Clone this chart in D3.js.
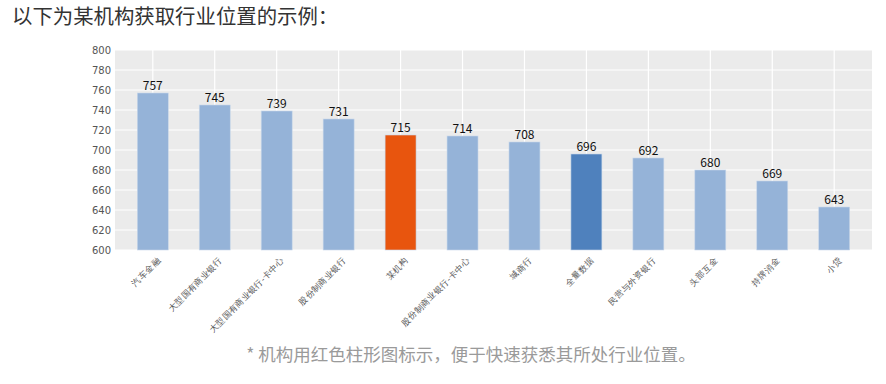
<!DOCTYPE html>
<html lang="zh">
<head>
<meta charset="utf-8">
<script src="https://cdnjs.cloudflare.com/ajax/libs/d3/7.8.5/d3.min.js"></script>
<style>
  body { margin: 0; background: #fff; }
  svg { display: block; font-family: "Noto Sans CJK SC", "Noto Sans", sans-serif; }
</style>
</head>
<body>
<script>
// chart data
var categories = ["汽车金融", "大型国有商业银行", "大型国有商业银行-卡中心", "股份制商业银行", "某机构",
                  "股份制商业银行-卡中心", "城商行", "全量数据", "民营与外资银行", "头部互金", "持牌消金", "小贷"]
var values = [757, 745, 739, 731, 715, 714, 708, 696, 692, 680, 669, 643]
var highlight = {"某机构": "#e8550e", "全量数据": "#4f81bd"}
var yTicks = [600, 620, 640, 660, 680, 700, 720, 740, 760, 780, 800]

var titleText = "以下为某机构获取行业位置的示例："
var noteText = "* 机构用红色柱形图标示，便于快速获悉其所处行业位置。"

var width = 886
var height = 384
var plot = {left: 115, right: 872, top: 50, bottom: 250}
var barFill = "#95b3d8"

var svg = d3.select("body").append("svg")
    .attr("width", width)
    .attr("height", height)

svg.append("text")
    .attr("x", 12)
    .attr("y", 24)
    .attr("font-size", 20.4)
    .attr("fill", "#333")
    .text(titleText)

// scales
var x = d3.scaleBand()
    .domain(categories)
    .range([plot.left, plot.right])
    .paddingInner(0.5)
    .paddingOuter(0.36)

var y = d3.scaleLinear()
    .domain([600, 800])
    .range([plot.bottom, plot.top])

// background + grid
svg.append("rect")
    .attr("x", plot.left)
    .attr("y", plot.top)
    .attr("width", plot.right - plot.left)
    .attr("height", plot.bottom - plot.top)
    .attr("fill", "#ebebeb")

svg.append("g")
    .selectAll("line")
    .data(yTicks)
    .join("line")
    .attr("x1", plot.left)
    .attr("x2", plot.right)
    .attr("y1", d => y(d))
    .attr("y2", d => y(d))
    .attr("stroke", "#fff")
    .attr("stroke-width", 1.2)

svg.append("g")
    .selectAll("line")
    .data(categories)
    .join("line")
    .attr("x1", d => x(d) + x.bandwidth() / 2)
    .attr("x2", d => x(d) + x.bandwidth() / 2)
    .attr("y1", plot.top)
    .attr("y2", plot.bottom)
    .attr("stroke", "#fff")
    .attr("stroke-width", 1.2)

// bars
svg.append("g")
    .selectAll("rect")
    .data(values)
    .join("rect")
    .attr("x", (d, i) => x(categories[i]))
    .attr("y", d => y(d))
    .attr("width", x.bandwidth())
    .attr("height", d => y(600) - y(d))
    .attr("fill", (d, i) => highlight[categories[i]] || barFill)
    .attr("stroke", "#c8d8ea")
    .attr("stroke-width", 0.6)

// value labels
svg.append("g")
    .selectAll("text")
    .data(values)
    .join("text")
    .attr("x", (d, i) => x(categories[i]) + x.bandwidth() / 2)
    .attr("y", d => y(d) - 3)
    .attr("text-anchor", "middle")
    .attr("font-size", 12)
    .attr("fill", "#111")
    .text(d => d)

// y axis
var yAxis = svg.append("g")
    .attr("transform", `translate(${plot.left},0)`)
    .call(d3.axisLeft(y).tickValues(yTicks).tickSize(0).tickPadding(4))
yAxis.select(".domain").remove()
yAxis.selectAll("text")
    .attr("font-size", 10)
    .attr("fill", "#555")
    .attr("font-family", "DejaVu Sans, sans-serif")

// x axis, labels rotated
var xAxis = svg.append("g")
    .attr("transform", `translate(0,${plot.bottom})`)
    .call(d3.axisBottom(x).tickSize(0).tickPadding(0))
xAxis.select(".domain").remove()
xAxis.selectAll("text")
    .attr("font-size", 8.5)
    .attr("fill", "#555")
    .attr("text-anchor", "end")
    .attr("dy", "0.35em")
    .attr("transform", "translate(6,9) rotate(-45)")

svg.append("text")
    .attr("x", 471)
    .attr("y", 361)
    .attr("text-anchor", "middle")
    .attr("font-size", 17.5)
    .attr("fill", "#9a9a9a")
    .text(noteText)
</script>
</body>
</html>
